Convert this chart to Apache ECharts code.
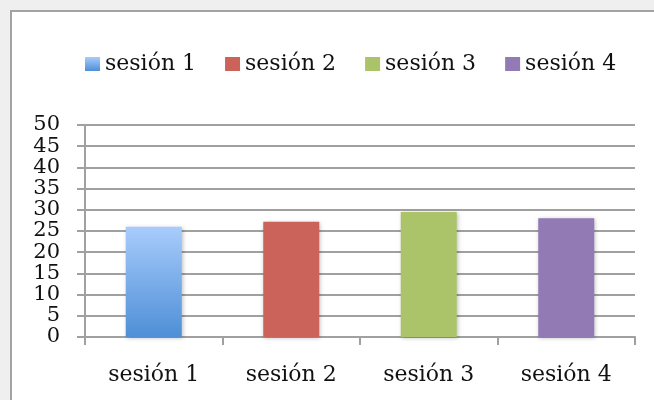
<!DOCTYPE html>
<html><head><meta charset="utf-8">
<script src="https://cdn.jsdelivr.net/npm/echarts@6/dist/echarts.min.js"></script>
<style>html,body{margin:0;padding:0;background:#efefef}#c{width:654px;height:400px}</style>
</head><body><div id="c"></div>
<script>
const categories = ['sesión 1', 'sesión 2', 'sesión 3', 'sesión 4'];
const seriesNames = ['sesión 1', 'sesión 2', 'sesión 3', 'sesión 4'];
const values = [26, 27.2, 29.5, 28];
const yMin = 0, yMax = 50, yStep = 5;

const colors = [
  {type:'linear',x:0,y:0,x2:0,y2:1,colorStops:[{offset:0,color:'#a8ccfc'},{offset:1,color:'#4e8fd6'}]},
  '#cc635b', '#abc46a', '#927ab4'
];
const font = 'DejaVu Serif';
const chart = echarts.init(document.getElementById('c'));
const series = seriesNames.map((n, i) => ({
  name: n, type: 'bar', stack: 'all', barWidth: 56,
  data: categories.map((c, j) => j === i ? values[i] : '-'),
  itemStyle: {color: colors[i], shadowColor: 'rgba(0,0,0,0.25)', shadowBlur: 4, shadowOffsetX: 1, shadowOffsetY: 1}
}));
chart.setOption({
  backgroundColor: '#efefef',
  animation: false,
  graphic: [{type:'rect', z: -10, shape:{x:11,y:11,width:700,height:420}, style:{fill:'#ffffff', stroke:'#a3a3a3', lineWidth:2}}],
  legend: {
    left: 80, top: 48, itemWidth: 15, itemHeight: 14, itemGap: 29, icon: 'rect',
    textStyle: {fontFamily: font, fontSize: 22, color: '#111'},
    data: seriesNames
  },
  grid: {left: 85, right: 19, top: 125, bottom: 63},
  xAxis: {
    type: 'category', data: categories,
    axisLine: {lineStyle: {color: '#a0a0a0', width: 2}},
    axisTick: {show: true, length: 8, lineStyle: {color: '#a0a0a0', width: 2}},
    axisLabel: {fontFamily: font, fontSize: 22, color: '#111', margin: 27}
  },
  yAxis: {
    type: 'value', min: yMin, max: yMax, interval: yStep,
    axisLine: {show: true, lineStyle: {color: '#a0a0a0', width: 2}},
    axisTick: {show: true, length: 8, lineStyle: {color: '#a0a0a0', width: 2}},
    splitLine: {lineStyle: {color: '#a0a0a0', width: 2}},
    axisLabel: {fontFamily: font, fontSize: 21, color: '#111', margin: 25, lineHeight: 14,
      showMinLabel: true, showMaxLabel: true, hideOverlap: false}
  },
  series
});
</script></body></html>
